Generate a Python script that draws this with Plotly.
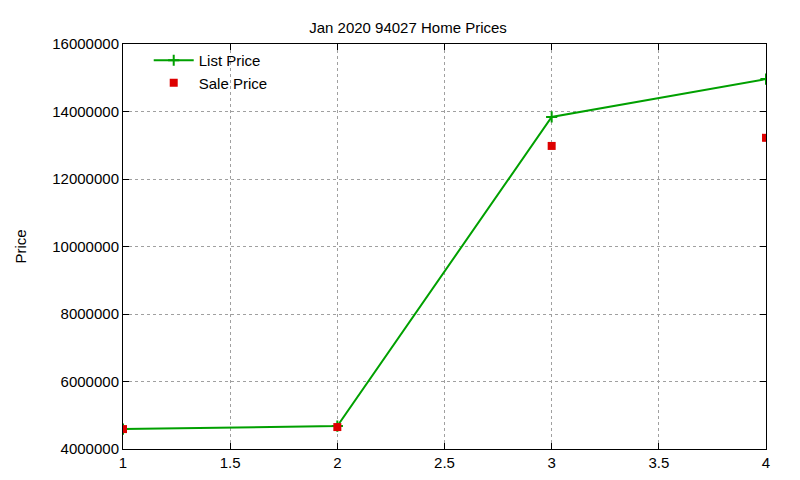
import plotly.graph_objects as go

x_vals = [1, 2, 3, 4]
list_price = [4590000, 4680000, 13840000, 14960000]
sale_price = [4590000, 4650000, 12980000, 13220000]

fig = go.Figure()
fig.add_trace(go.Scatter(x=x_vals, y=list_price, name='List Price', mode='lines+markers',
                         line=dict(color='#00a000', width=2),
                         marker=dict(symbol='cross-thin', size=8, line=dict(color='#00a000', width=2))))
fig.add_trace(go.Scatter(x=x_vals, y=sale_price, name='Sale Price', mode='markers',
                         marker=dict(symbol='square', size=8, color='#dd0000')))

axis = dict(showline=True, linecolor='black', linewidth=1, mirror='ticks', ticks='inside',
            ticklen=6, tickcolor='black', showgrid=True, gridcolor='#a0a0a0', griddash='dot',
            zeroline=False, tickfont=dict(size=15, color='black'))

fig.update_layout(
    width=800, height=480,
    margin=dict(l=111, r=42, t=36, b=39),
    paper_bgcolor='white', plot_bgcolor='white',
    font=dict(family='Liberation Sans, Arial, sans-serif', color='black'),
    title=dict(text='Jan 2020 94027 Home Prices', x=0.5, xanchor='center', y=0.97, font=dict(size=15)),
    xaxis=dict(axis, range=[1, 4], tickvals=[1, 1.5, 2, 2.5, 3, 3.5, 4], ticktext=['1', '1.5', '2', '2.5', '3', '3.5', '4']),
    yaxis=dict(axis, range=[4000000, 16000000], dtick=2000000, tickformat='d',
               title=dict(text='Price', font=dict(size=15), standoff=22)),
    legend=dict(x=0.04, y=1.0, xanchor='left', yanchor='top', bgcolor='rgba(0,0,0,0)',
                font=dict(size=15), tracegroupgap=0, itemwidth=40),
)

fig.write_html("out.html")
